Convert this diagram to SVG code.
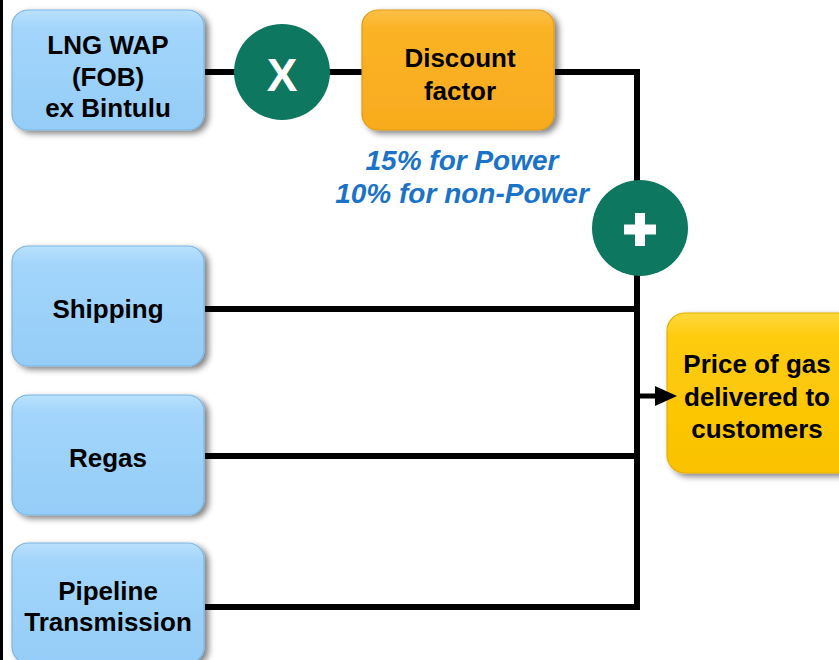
<svg xmlns="http://www.w3.org/2000/svg" width="839" height="660" viewBox="0 0 839 660">
<defs>
<linearGradient id="gBlue" x1="0" y1="0" x2="0" y2="1">
<stop offset="0" stop-color="#b9e1fd"/>
<stop offset="0.15" stop-color="#a3d5fb"/>
<stop offset="1" stop-color="#94cdf7"/>
</linearGradient>
<linearGradient id="gOrange" x1="0" y1="0" x2="0" y2="1">
<stop offset="0" stop-color="#fcc04a"/>
<stop offset="0.15" stop-color="#fbb325"/>
<stop offset="1" stop-color="#f8ab1e"/>
</linearGradient>
<linearGradient id="gYellow" x1="0" y1="0" x2="0" y2="1">
<stop offset="0" stop-color="#fed83e"/>
<stop offset="0.15" stop-color="#fecb0c"/>
<stop offset="1" stop-color="#fac200"/>
</linearGradient>
<filter id="sh" x="-10%" y="-10%" width="130%" height="130%">
<feGaussianBlur in="SourceAlpha" stdDeviation="3"/>
<feOffset dx="4" dy="3" result="b"/>
<feComponentTransfer><feFuncA type="linear" slope="0.5"/></feComponentTransfer>
<feMerge><feMergeNode/><feMergeNode in="SourceGraphic"/></feMerge>
</filter>
</defs>
<style>
.bx{stroke-width:1.2;filter:url(#sh)}
.blue{fill:url(#gBlue);stroke:#7db6e2}
.orange{fill:url(#gOrange);stroke:#e39a10}
.yellow{fill:url(#gYellow);stroke:#e8b000}
.t{font-family:"Liberation Sans",Arial,sans-serif;font-weight:bold;font-size:26px;fill:#000;text-anchor:middle}
.note{font-family:"Liberation Sans",Arial,sans-serif;font-weight:bold;font-style:italic;font-size:28px;fill:#1a73c8;text-anchor:middle}
.op{fill:#0e7760}
.ln{stroke:#000;stroke-width:6;fill:none}
</style>
<rect x="0" y="0" width="839" height="660" fill="#fff"/>
<rect x="0" y="0" width="3" height="660" fill="#000"/>
<g id="connectors">
<line class="ln" x1="205" y1="72" x2="236" y2="72"/>
<line class="ln" x1="328" y1="72" x2="362" y2="72"/>
<polyline class="ln" points="555,72 637,72 637,607 205,607"/>
<line class="ln" x1="205" y1="309" x2="637" y2="309"/>
<line class="ln" x1="205" y1="456" x2="637" y2="456"/>
</g>
<g id="lng">
<rect class="bx blue" x="12" y="10" width="192" height="120" rx="16"/>
<text class="t" x="108" y="54">LNG WAP</text>
<text class="t" x="108" y="86">(FOB)</text>
<text class="t" x="108" y="117">ex Bintulu</text>
</g>
<g id="multiply">
<circle class="op" cx="282" cy="72" r="48"/>
<text x="282" y="91" font-family="Liberation Sans,Arial,sans-serif" font-weight="bold" font-size="46" fill="#fff" text-anchor="middle">X</text>
</g>
<g id="discount">
<rect class="bx orange" x="362" y="10" width="192" height="120" rx="16"/>
<text class="t" x="460" y="67">Discount</text>
<text class="t" x="460" y="100">factor</text>
</g>
<g id="note">
<text class="note" x="462" y="170">15% for Power</text>
<text class="note" x="462" y="203">10% for non-Power</text>
</g>
<g id="plus">
<circle class="op" cx="640" cy="228" r="48"/>
<rect x="624" y="224.5" width="32" height="10" fill="#fff"/>
<rect x="635" y="213" width="10" height="33" fill="#fff"/>
</g>
<g id="shipping">
<rect class="bx blue" x="12" y="246" width="192" height="120" rx="16"/>
<text class="t" x="108" y="318">Shipping</text>
</g>
<g id="regas">
<rect class="bx blue" x="12" y="395" width="192" height="120" rx="16"/>
<text class="t" x="108" y="467">Regas</text>
</g>
<g id="pipeline">
<rect class="bx blue" x="12" y="543" width="192" height="120" rx="16"/>
<text class="t" x="108" y="600">Pipeline</text>
<text class="t" x="108" y="631">Transmission</text>
</g>
<g id="price">
<rect class="bx yellow" x="667" y="313" width="190" height="160" rx="18"/>
<text class="t" x="757" y="373">Price of gas</text>
<text class="t" x="757" y="406">delivered to</text>
<text class="t" x="757" y="438">customers</text>
</g>
<g id="connector-arrow">
<line stroke="#000" stroke-width="5" x1="637" y1="396" x2="660" y2="396"/>
<path d="M655,386 L677,396 L655,406 z" fill="#000"/>
</g>
</svg>
